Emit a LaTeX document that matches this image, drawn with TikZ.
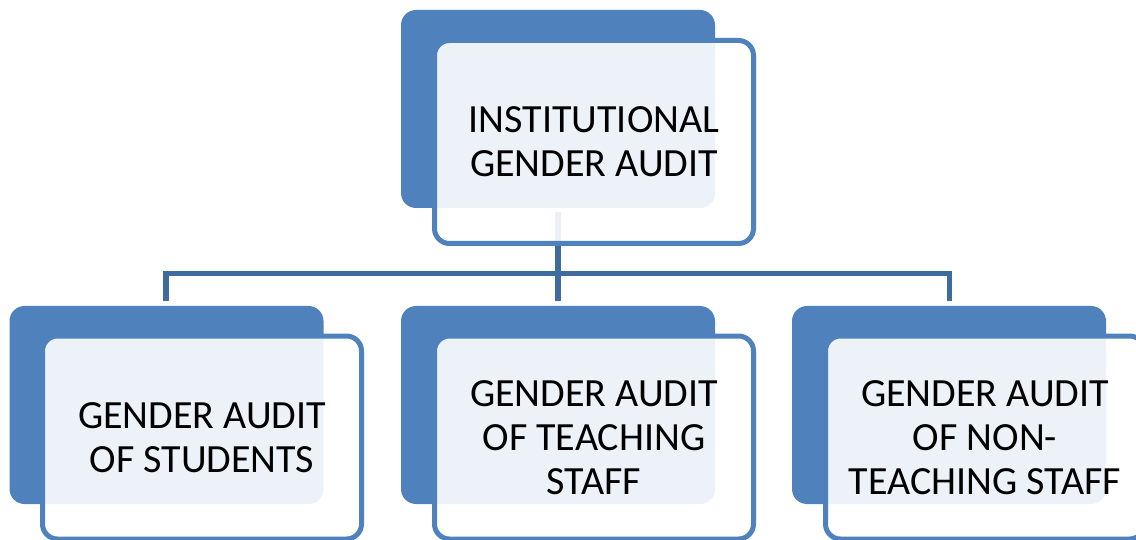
\documentclass[tikz,border=0pt]{standalone}
\usepackage{fontspec}
\setmainfont{Carlito}
\definecolor{accent}{HTML}{4F81BD}
\definecolor{connc}{HTML}{3F6C9F}
\tikzset{
  backbox/.style={rectangle, rounded corners=15pt, fill=accent, draw=none,
    minimum width=314pt, minimum height=198pt, inner sep=0pt},
  frontbox/.style={rectangle, rounded corners=15pt, draw=accent, line width=5pt,
    fill=white, fill opacity=0.9, text opacity=1,
    minimum width=319pt, minimum height=203pt, inner sep=0pt,
    align=center, font=\fontsize{40}{44}\selectfont},
  conn/.style={draw=connc, line width=5.5pt, line join=miter}
}
\begin{document}
\begin{tikzpicture}[x=1pt,y=-1pt]
\useasboundingbox (0,0) rectangle (1136,540);
\clip (0,0) rectangle (1136,540);
% back boxes
\node[backbox] (tb) at (558,109) {};
\node[backbox] (lb) at (166.5,405) {};
\node[backbox] (mb) at (558,405) {};
\node[backbox] (rb) at (949,405) {};
% connectors
\coordinate (ts) at (558,212);
\coordinate (te) at (558,301);
\coordinate (ls) at (166,301);
\coordinate (hl) at (166,273.5);
\coordinate (hr) at (949.5,273.5);
\coordinate (rs) at (949.5,301);
\draw[conn] (ts) -- (te);
\draw[conn] (ls) -- (hl) -- (hr) -- (rs);
% front boxes
\node[frontbox] (tf) at (594,142) {INSTITUTIONAL\\GENDER AUDIT};
\node[frontbox] (lf) at (202,437.5) {GENDER AUDIT\\OF STUDENTS};
\node[frontbox] (mf) at (594,437.5) {GENDER AUDIT\\OF TEACHING\\STAFF};
\node[frontbox] (rf) at (985,437.5) {GENDER AUDIT\\OF NON-\\TEACHING STAFF};
\end{tikzpicture}
\end{document}
